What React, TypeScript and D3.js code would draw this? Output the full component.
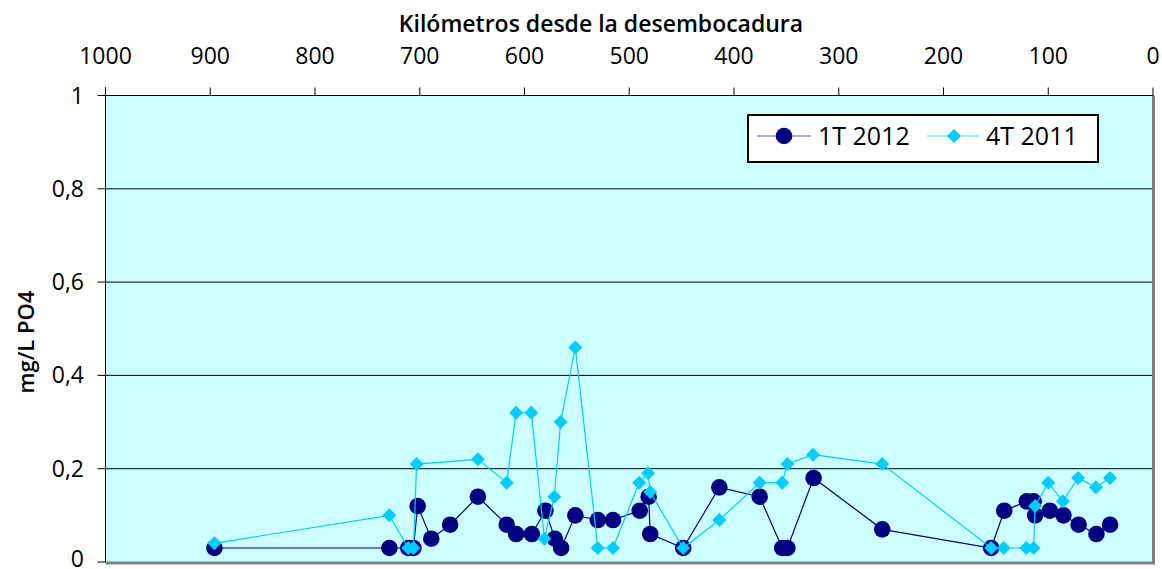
import * as d3 from "d3";
import React from "react";

// km from the river mouth, mg/L PO4
const km2012 = [896, 729, 711, 706, 702, 689, 671, 644.5, 617, 608, 593, 580, 571, 565, 551.5, 530, 515.5, 490, 481.5, 480, 448.5, 414, 375.5, 354, 349, 324, 258.5, 154.5, 142, 120.5, 114, 112.5, 98.5, 85.5, 71, 54, 41];
const val2012 = [0.03, 0.03, 0.03, 0.03, 0.12, 0.05, 0.08, 0.14, 0.08, 0.06, 0.06, 0.11, 0.05, 0.03, 0.1, 0.09, 0.09, 0.11, 0.14, 0.06, 0.03, 0.16, 0.14, 0.03, 0.03, 0.18, 0.07, 0.03, 0.11, 0.13, 0.13, 0.1, 0.11, 0.1, 0.08, 0.06, 0.08];

const km2011 = [896, 729, 711, 706, 703, 644.5, 617, 608, 593.5, 581, 571.5, 565.5, 551.5, 530, 515.5, 490.5, 482, 480, 448.5, 414, 375.5, 354, 349, 324.5, 258.5, 154.5, 142.5, 121, 114, 112.5, 100, 86, 71.5, 54.5, 41];
const val2011 = [0.04, 0.1, 0.03, 0.03, 0.21, 0.22, 0.17, 0.32, 0.32, 0.05, 0.14, 0.3, 0.46, 0.03, 0.03, 0.17, 0.19, 0.15, 0.03, 0.09, 0.17, 0.17, 0.21, 0.23, 0.21, 0.03, 0.03, 0.03, 0.03, 0.12, 0.17, 0.13, 0.18, 0.16, 0.18];

const xTicks = [1000, 900, 800, 700, 600, 500, 400, 300, 200, 100, 0];
const yTicks = [0, 0.2, 0.4, 0.6, 0.8, 1];
const seriesNames = ["1T 2012", "4T 2011"];

const W = 1162;
const H = 569;
const left = 105.5;
const right = 1153;
const top = 95.5;
const bottom = 562;
const font = "'Open Sans', sans-serif";
const dark = "#000080";
const cyan = "#00CCFF";

export default function App() {
  const x = d3.scaleLinear().domain([1000, 0]).range([left, right]);
  const y = d3.scaleLinear().domain([0, 1]).range([bottom, top]);

  const pts2012 = km2012.map((k, i) => [x(k), y(val2012[i])] as [number, number]);
  const pts2011 = km2011.map((k, i) => [x(k), y(val2011[i])] as [number, number]);
  const line = d3.line();

  const diamond = (cx: number, cy: number, s: number) =>
    `M${cx},${cy - s}L${cx + s},${cy}L${cx},${cy + s}L${cx - s},${cy}Z`;

  const fmt = (v: number) => String(v).replace(".", ",");

  return (
    <div style={{ position: "absolute", left: 0, top: 0 }}>
      <svg width={W} height={H} style={{ display: "block", background: "#fff" }}>
        <rect x={left} y={top} width={right - left} height={bottom - top} fill="#CCFFFF" />
        {/* grid */}
        {yTicks.filter((t) => t > 0 && t < 1).map((t) => (
          <line key={t} x1={left} x2={right} y1={y(t)} y2={y(t)} stroke="#000" strokeWidth={1} />
        ))}
        {/* plot border */}
        <line x1={right + 0.5} x2={right + 0.5} y1={top} y2={bottom + 2} stroke="#808080" strokeWidth={3} />
        <line x1={left} x2={right + 2} y1={bottom + 1} y2={bottom + 1} stroke="#808080" strokeWidth={3} />
        {/* top axis */}
        <line x1={left} x2={right} y1={top} y2={top} stroke="#000" strokeWidth={1} />
        {xTicks.map((t) => (
          <g key={t}>
            <line x1={x(t)} x2={x(t)} y1={top - 8} y2={top} stroke="#000" />
            <text x={x(t)} y={64} textAnchor="middle" fontFamily={font} fontSize={23} fill="#000">
              {t}
            </text>
          </g>
        ))}
        <text x={601} y={32} textAnchor="middle" fontFamily={font} fontSize={23} fontWeight={600} fill="#000">
          Kilómetros desde la desembocadura
        </text>
        {/* left axis */}
        <line x1={left} x2={left} y1={top - 8} y2={bottom} stroke="#000" strokeWidth={1} />
        {yTicks.map((t) => (
          <g key={t}>
            <line x1={left - 8} x2={left} y1={y(t)} y2={y(t)} stroke="#000" />
            <text x={84} y={Math.min(y(t) + 8, 567)} textAnchor="end" fontFamily={font} fontSize={23} fill="#000">
              {fmt(t)}
            </text>
          </g>
        ))}
        <text
          transform={`translate(34,342) rotate(-90)`}
          textAnchor="middle"
          fontFamily={font}
          fontSize={22}
          fontWeight={600}
          fill="#000"
        >
          mg/L PO4
        </text>
        {/* series 1T 2012 */}
        <path d={line(pts2012) ?? ""} fill="none" stroke={dark} strokeWidth={1.2} />
        {pts2012.map(([px, py], i) => (
          <circle key={i} cx={px} cy={py} r={8.3} fill={dark} />
        ))}
        {/* series 4T 2011 */}
        <path d={line(pts2011) ?? ""} fill="none" stroke={cyan} strokeWidth={1.2} />
        {pts2011.map(([px, py], i) => (
          <path key={i} d={diamond(px, py, 7)} fill={cyan} />
        ))}
        {/* legend */}
        <rect x={748} y={115} width={350} height={47} fill="#fff" stroke="#000" strokeWidth={2} />
        <line x1={757} x2={811} y1={136} y2={136} stroke={dark} strokeWidth={1.2} opacity={0.65} />
        <circle cx={784} cy={136} r={8.3} fill={dark} />
        <text x={818} y={145} fontFamily={font} fontSize={25} fill="#000">
          {seriesNames[0]}
        </text>
        <line x1={927} x2={979} y1={136} y2={136} stroke={cyan} strokeWidth={1.2} opacity={0.75} />
        <path d={diamond(954, 136, 7)} fill={cyan} />
        <text x={986} y={145} fontFamily={font} fontSize={25} fill="#000">
          {seriesNames[1]}
        </text>
      </svg>
    </div>
  );
}
